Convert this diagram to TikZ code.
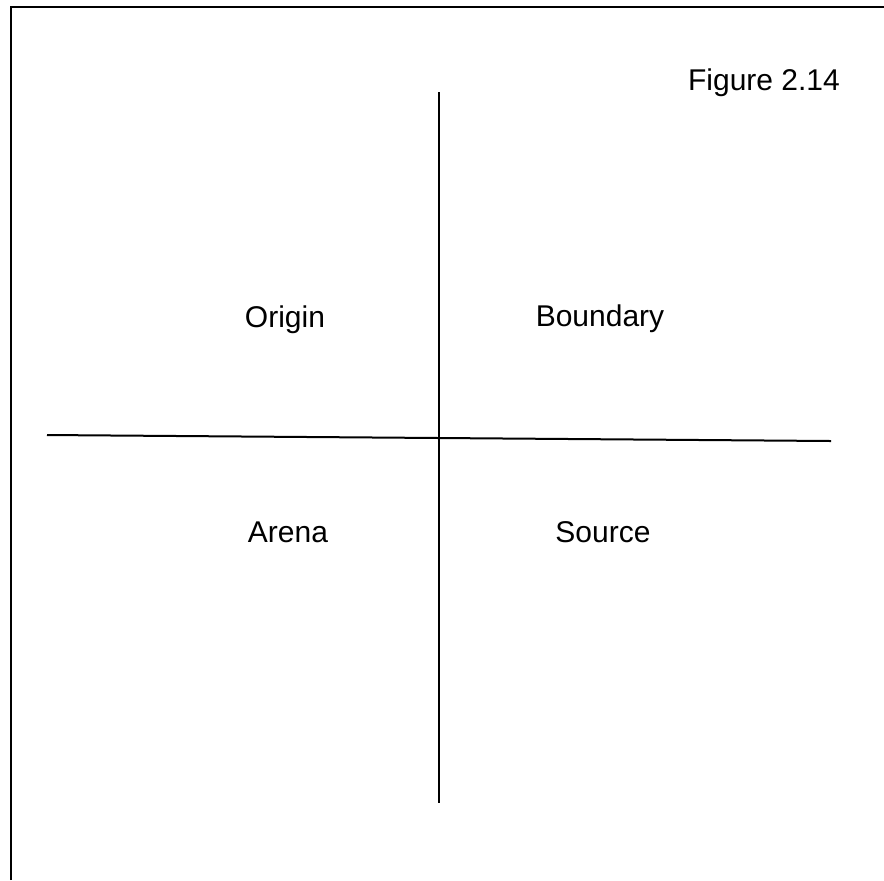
\documentclass[tikz,border=0pt]{standalone}
\usepackage{fontspec}
\setmainfont{Liberation Sans}
\begin{document}
\begin{tikzpicture}[x=0.5pt, y=-0.5pt,
  label/.style={font=\fontsize{15}{18}\selectfont, inner sep=0pt, anchor=base},
  axis/.style={line width=1pt}
]
\useasboundingbox (0,0) rectangle (884,880);
% frame, only left and top edges show
\draw[line width=1.1pt] (11,880) -- (11,7) -- (884,7);
\node[label] (fig) at (764,90) {Figure 2.14};
% axes
\coordinate (top) at (439,92);
\coordinate (bottom) at (439,803);
\coordinate (left) at (47,435);
\coordinate (right) at (831,441);
\draw[axis] (top) -- (bottom);
\draw[axis] (left) -- (right);
% quadrants
\node[label] (origin) at (285,327) {Origin};
\node[label] (boundary) at (600,326) {Boundary};
\node[label] (arena) at (288,542) {Arena};
\node[label] (source) at (603,542) {Source};
\end{tikzpicture}
\end{document}
